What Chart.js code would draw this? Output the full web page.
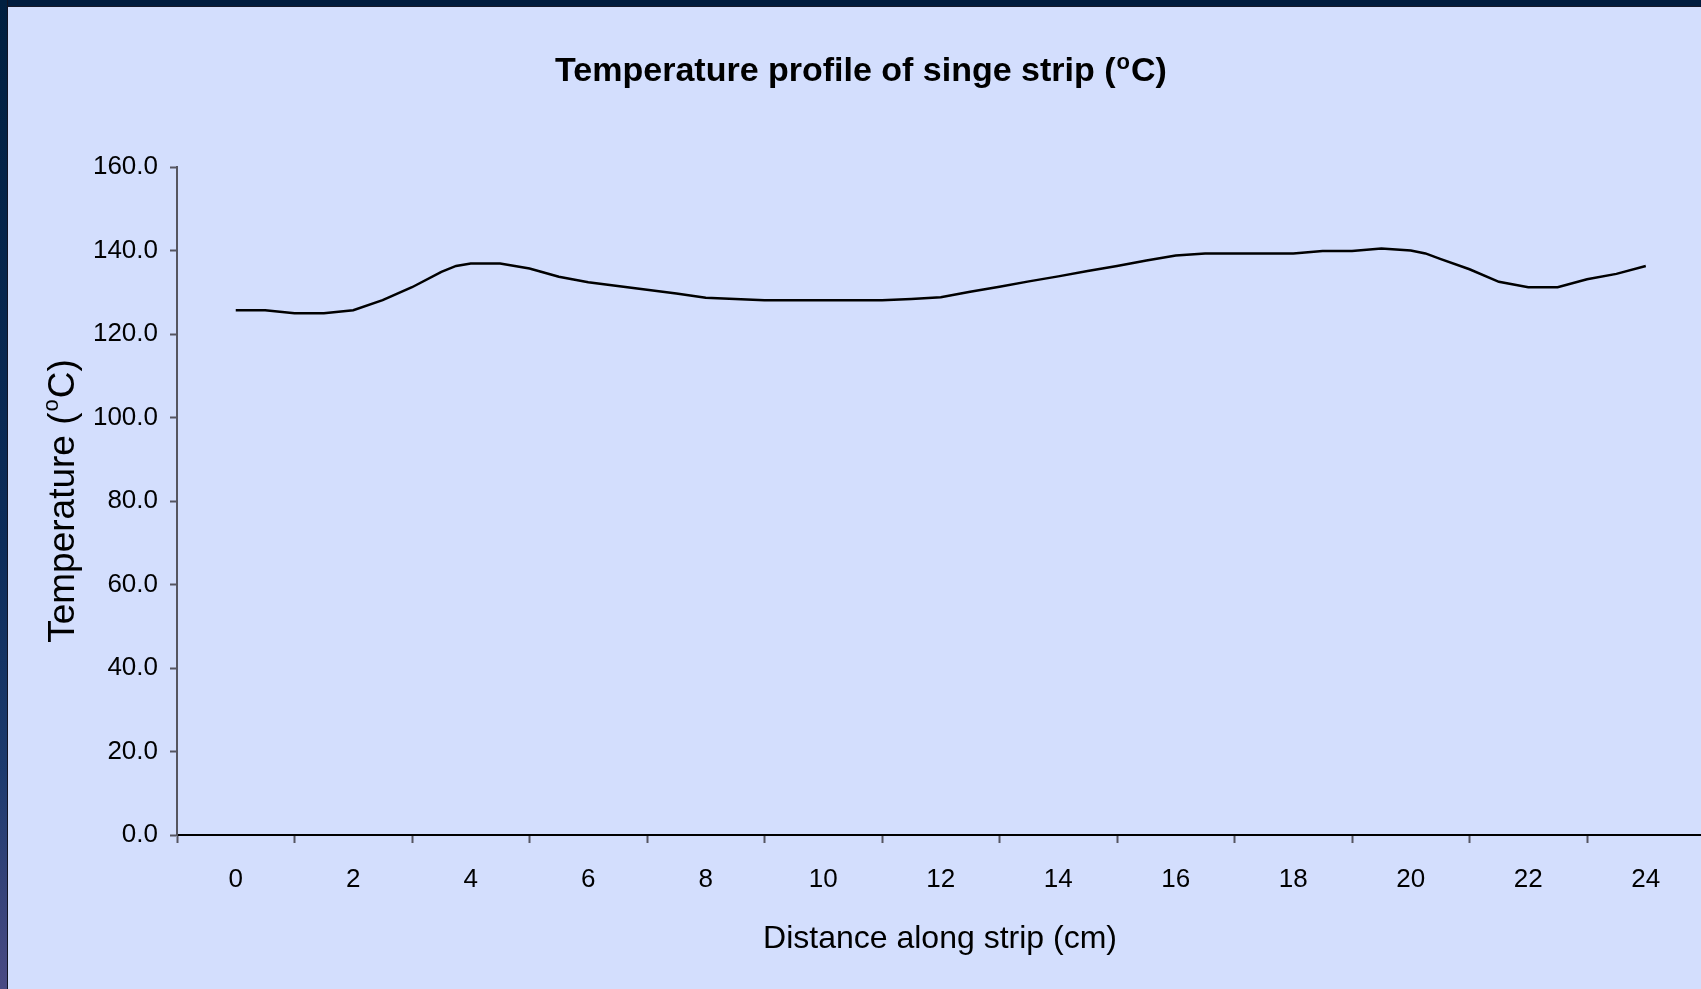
<!DOCTYPE html>
<html>
<head>
<meta charset="utf-8">
<title>Temperature profile</title>
<script src="https://cdn.jsdelivr.net/npm/chart.js@4.4.0/dist/chart.umd.min.js"></script>
<style>
  html, body { margin: 0; padding: 0; }
  body { width: 1701px; height: 989px; background: #d3defd; position: relative; overflow: hidden; }
  #chart { position: absolute; left: 0; top: 0; }
  #bandTop { position: absolute; left: 0; top: 0; width: 1701px; height: 6px; background: #001c3e; border-bottom: 1px solid #15182a; z-index: 2; }
  #bandLeft { position: absolute; left: 0; top: 0; width: 7px; height: 989px; z-index: 2;
    background: linear-gradient(to bottom, #001f40 0%, #0c2c5a 55%, #1c3a6e 78%, #4a4a84 100%);
    border-right: 1px solid #121424; }
</style>
</head>
<body>
<div id="bandTop"></div>
<div id="bandLeft"></div>
<canvas id="chart" width="1701" height="989"></canvas>
<script>
// distance along strip (cm)
const distances = [0, 0.5, 1, 1.5, 2, 2.5, 3, 3.5, 3.75, 4, 4.5, 5, 5.5, 6, 6.5, 7, 7.5, 8, 8.5, 9, 9.5, 10, 10.5, 11, 11.5, 12,
  12.5, 13, 13.5, 14, 14.5, 15, 15.5, 16, 16.5, 17, 17.5, 18, 18.5, 19, 19.5, 20, 20.25, 20.5, 21, 21.5, 22, 22.5, 23, 23.5, 24];
// temperature (°C)
const temps = [125.7, 125.7, 125.0, 125.0, 125.7, 128.1, 131.2, 134.9, 136.3, 136.9, 136.9, 135.7, 133.7, 132.4, 131.5, 130.6, 129.7, 128.7, 128.4, 128.1, 128.1, 128.1, 128.1, 128.1, 128.4, 128.8,
  130.1, 131.3, 132.6, 133.8, 135.1, 136.3, 137.6, 138.8, 139.3, 139.3, 139.3, 139.3, 139.9, 139.9, 140.5, 140.0, 139.3, 138.0, 135.5, 132.5, 131.2, 131.2, 133.1, 134.4, 136.3];
const xTickLabels = [0, 2, 4, 6, 8, 10, 12, 14, 16, 18, 20, 22, 24];
const yTickValues = [0, 20, 40, 60, 80, 100, 120, 140, 160];

const points = distances.map((d, i) => ({ x: d, y: temps[i] }));

// text with a raised small "o" (degree mark as in the original)
function drawSup(c, before, sup, after, cx, base, font, supFont, rise) {
  c.font = font;
  const w1 = c.measureText(before).width;
  const w3 = c.measureText(after).width;
  c.font = supFont;
  const w2 = c.measureText(sup).width;
  let x = cx - (w1 + w2 + w3) / 2;
  c.textAlign = 'left';
  c.textBaseline = 'alphabetic';
  c.font = font; c.fillText(before, x, base); x += w1;
  c.font = supFont; c.fillText(sup, x + 1, base + rise); x += w2 + 2;
  c.font = font; c.fillText(after, x, base);
}

const textPlugin = {
  id: 'texts',
  afterDraw(chart) {
    const c = chart.ctx;
    c.save();
    c.fillStyle = '#000';
    drawSup(c, 'Temperature profile of singe strip (', 'o', 'C)', 860, 81,
      'bold 34px "Liberation Sans Narrow", "Liberation Sans", Arial, sans-serif',
      'bold 22px "Liberation Sans Narrow", "Liberation Sans", Arial, sans-serif', -12);

    c.font = '32px "Liberation Sans", Arial, sans-serif';
    c.textAlign = 'center';
    c.textBaseline = 'alphabetic';
    c.fillText('Distance along strip (cm)', 940, 948);

    c.translate(74, 502);
    c.rotate(-Math.PI / 2);
    drawSup(c, 'Temperature (', 'o', 'C)', 0, 0,
      '37px "Liberation Sans", Arial, sans-serif',
      '22px "Liberation Sans", Arial, sans-serif', -16);
    c.restore();
  }
};

const ctx = document.getElementById('chart').getContext('2d');
const myChart = new Chart(ctx, {
  type: 'line',
  data: {
    datasets: [{
      data: points,
      borderColor: '#000',
      borderWidth: 2.5,
      pointRadius: 0,
      tension: 0,
      fill: false
    }]
  },
  options: {
    responsive: false,
    animation: false,
    devicePixelRatio: 1,
    layout: { padding: { top: 167, left: 0, right: 0, bottom: 0 } },
    plugins: {
      legend: { display: false },
      tooltip: { enabled: false },
      title: { display: false }
    },
    scales: {
      x: {
        type: 'linear',
        min: -1,
        max: 24.94,
        afterFit: s => { s.height = 154; s.paddingLeft = 0; s.paddingRight = 0; },
        afterBuildTicks: s => {
          const t = [];
          for (let v = -1; v <= 24; v++) t.push({ value: v });
          s.ticks = t;
        },
        ticks: {
          autoSkip: false,
          maxRotation: 0,
          padding: 21,
          color: '#000',
          font: { family: '"Liberation Sans", Arial, sans-serif', size: 26 },
          callback: v => xTickLabels.includes(v) ? String(v) : ''
        },
        grid: {
          drawOnChartArea: false,
          drawTicks: true,
          tickLength: 8,
          tickWidth: 2,
          tickColor: c => (Math.abs(c.tick.value) % 2 === 1) ? '#555560' : 'rgba(0,0,0,0)'
        },
        border: { color: '#000', width: 2 }
      },
      y: {
        min: 0,
        max: 160,
        afterFit: s => { s.width = 177; s.paddingTop = 0; s.paddingBottom = 0; },
        afterBuildTicks: s => { s.ticks = yTickValues.map(v => ({ value: v })); },
        ticks: {
          padding: 12,
          color: '#000',
          font: { family: '"Liberation Sans", Arial, sans-serif', size: 26 },
          callback: v => v.toFixed(1)
        },
        grid: {
          drawOnChartArea: false,
          drawTicks: true,
          tickLength: 7,
          tickWidth: 2,
          tickColor: '#555560'
        },
        border: { color: '#555560', width: 2 }
      }
    }
  },
  plugins: [textPlugin]
});
</script>
</body>
</html>
